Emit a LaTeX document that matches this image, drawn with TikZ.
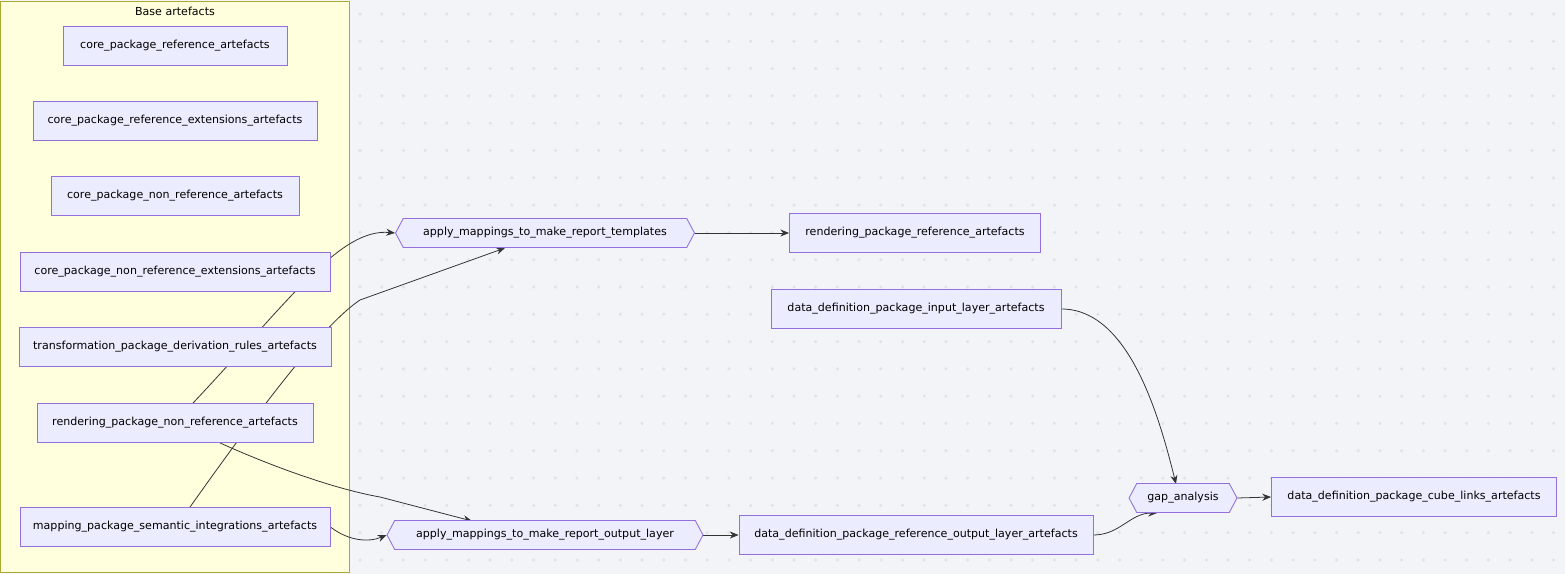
\documentclass[tikz,border=0pt]{standalone}
\usepackage{fontspec}
\setmainfont{DejaVu Sans}
\usetikzlibrary{arrows.meta, shapes.symbols, backgrounds}

\definecolor{boxfill}{HTML}{ECECFF}
\definecolor{boxline}{HTML}{9370DB}
\definecolor{groupfill}{HTML}{FFFFDE}
\definecolor{groupline}{HTML}{AAAA33}
\definecolor{canvas}{HTML}{F3F4F7}
\definecolor{dotcol}{HTML}{E2E3EA}
\definecolor{edgecol}{HTML}{333333}

\pgfdeclarelayer{edges}
\pgfsetlayers{background,edges,main}

\begin{document}
\begin{tikzpicture}[
            x = 0.02cm, y = -0.02cm, % pixel grid of the reference
            > = {Stealth[length=5pt,width=4pt]}, % arrow head style
            every node/.style = {font = \fontsize{6.3}{8}\selectfont},
            box/.style = {draw = boxline, fill = boxfill, line width = 0.5pt,
                minimum height = 0.78cm, inner sep = 0pt},
            hexa/.style = {box, signal, signal to = west and east,
                signal pointer angle = 124, minimum height = 0.58cm},
            link/.style = {draw = edgecol, line width = 0.45pt}
        ]

        \begin{pgfonlayer}{background}
        % canvas and dots
        \fill[canvas] (0,0) rectangle (1565,574);
        \foreach \i in {0,...,55} {
            \foreach \j in {0,...,20} {
                \fill[dotcol] (360+\i*21.7, 14+\j*27.3) circle (1pt);
            }
        }
        % group of base artefacts
        \draw[groupline, fill = groupfill, line width = 0.5pt] (0.5,1) rectangle (349,572);
        \end{pgfonlayer}
        \node (grp) at (175,11) {Base artefacts};

	\node[box, minimum width = 4.48cm] (cra) at (175,46) {core\_package\_reference\_artefacts};
	\node[box, minimum width = 5.68cm] (crea) at (175,121) {core\_package\_reference\_extensions\_artefacts};
	\node[box, minimum width = 4.96cm] (cnra) at (175,196) {core\_package\_non\_reference\_artefacts};
	\node[box, minimum width = 6.2cm] (cnrea) at (175,272) {core\_package\_non\_reference\_extensions\_artefacts};
	\node[box, minimum width = 6.24cm] (tdra) at (175,347) {transformation\_package\_derivation\_rules\_artefacts};
	\node[box, minimum width = 5.52cm] (rnra) at (175,423) {rendering\_package\_non\_reference\_artefacts};
	\node[box, minimum width = 6.2cm] (msia) at (175,527) {mapping\_package\_semantic\_integrations\_artefacts};

	\node[hexa, minimum width = 5.98cm] (tmpl) at (545,233) {apply\_mappings\_to\_make\_report\_templates};
	\node[hexa, minimum width = 6.32cm] (outl) at (545,535) {apply\_mappings\_to\_make\_report\_output\_layer};
	\node[box, minimum width = 5.02cm] (rra) at (915,233) {rendering\_package\_reference\_artefacts};
	\node[box, minimum width = 5.8cm] (dila) at (916,309) {data\_definition\_package\_input\_layer\_artefacts};
	\node[box, minimum width = 7.08cm] (drola) at (916,535) {data\_definition\_package\_reference\_output\_layer\_artefacts};
	\node[hexa, minimum width = 2.16cm] (gap) at (1183,498) {gap\_analysis};
	\node[box, minimum width = 5.7cm] (dcla) at (1414,497) {data\_definition\_package\_cube\_links\_artefacts};

        % arrow ends on the hexagons
        \coordinate (tmplin) at (505,248);
        \coordinate (outin) at (472,521);
        \coordinate (gapin) at (1176,484);
        \coordinate (gapsw) at (1157,513);

        \begin{pgfonlayer}{edges}
        \path[link, ->] (rnra.north) ++(18,0) .. controls (290,300) and (340,228) .. (tmpl.west);
        \path[link, ->] (msia.north) ++(15,0) .. controls (280,380) and (330,320) .. (360,300) -- (tmplin);
        \path[link, ->] (rnra.south) ++(45,0) .. controls (280,470) and (340,490) .. (380,497) -- (outin);
        \path[link, ->] (msia.east) .. controls (350,542) and (370,542) .. (outl.west);
        \path[link, ->] (tmpl.east) -- (rra.west);
        \path[link, ->] (outl.east) -- (drola.west);
        \path[link, ->] (dila.east) .. controls (1130,309) and (1160,420) .. (gapin);
        \path[link, ->] (drola.east) .. controls (1120,535) and (1130,513) .. (gapsw);
        \path[link, ->] (gap.east) -- (dcla.west);
        \end{pgfonlayer}

        \useasboundingbox (0,0) rectangle (1565,574);
    \end{tikzpicture}
\end{document}
